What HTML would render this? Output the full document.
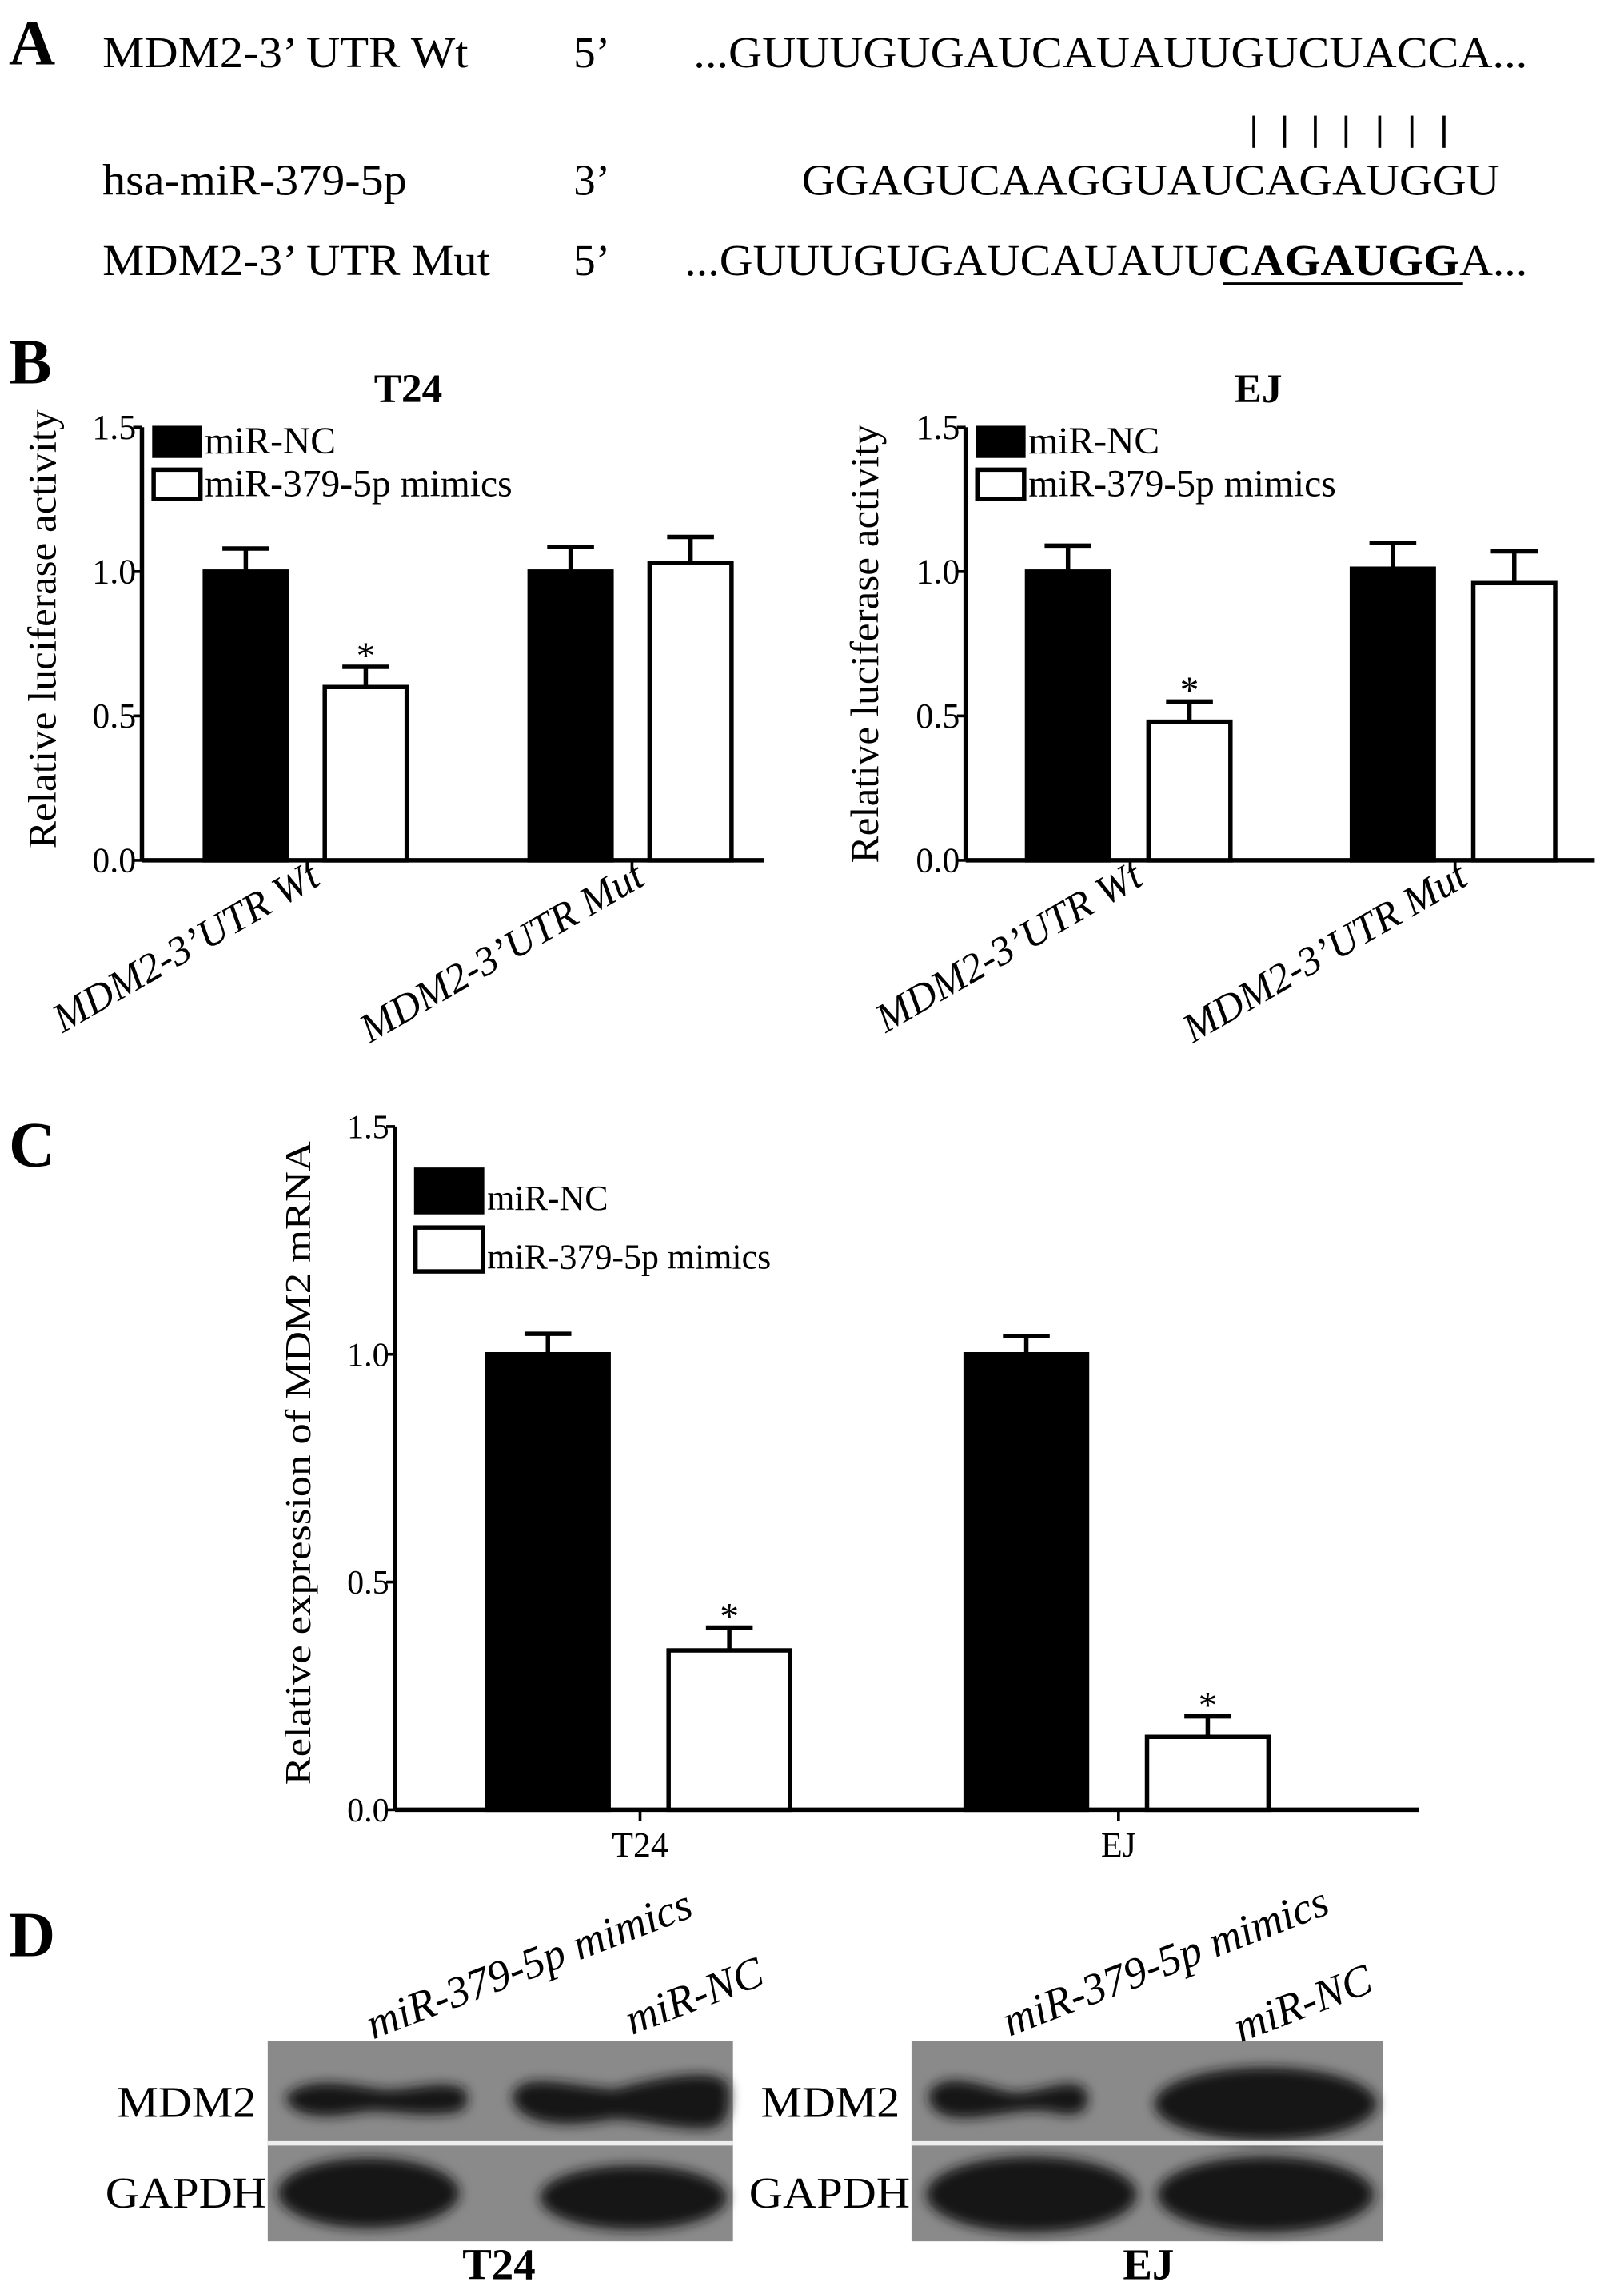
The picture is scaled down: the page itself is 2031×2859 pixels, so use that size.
<!DOCTYPE html>
<html><head><meta charset="utf-8">
<style>
html,body{margin:0;padding:0;background:#fff;}
svg{display:block;}
svg text{font-family:"Liberation Serif",serif;}
</style></head>
<body>
<svg id="fig" width="2031" height="2859" viewBox="0 0 1110 1562.5" xmlns="http://www.w3.org/2000/svg" font-family="Liberation Serif, serif">
<defs>
<filter id="blur" x="-20%" y="-50%" width="140%" height="200%"><feGaussianBlur stdDeviation="4"/></filter>
</defs>
<!-- Panel A -->
<g font-size="30">
<text x="6" y="44" font-size="44" font-weight="bold">A</text>
<text x="70" y="46" textLength="250" lengthAdjust="spacingAndGlyphs">MDM2-3’ UTR Wt</text>
<text x="392" y="46">5’</text>
<text x="474" y="46" textLength="570" lengthAdjust="spacingAndGlyphs">...GUUUGUGAUCAUAUUGUCUACCA...</text>
<g stroke="#000" stroke-width="2">
<line x1="857" y1="79" x2="857" y2="101"/><line x1="878" y1="79" x2="878" y2="101"/><line x1="899" y1="79" x2="899" y2="101"/><line x1="920" y1="79" x2="920" y2="101"/><line x1="943" y1="79" x2="943" y2="101"/><line x1="965" y1="79" x2="965" y2="101"/><line x1="987" y1="79" x2="987" y2="101"/>
</g>
<text x="70" y="133" textLength="208" lengthAdjust="spacingAndGlyphs">hsa-miR-379-5p</text>
<text x="392" y="133">3’</text>
<text x="548" y="133" textLength="477" lengthAdjust="spacingAndGlyphs">GGAGUCAAGGUAUCAGAUGGU</text>
<text x="70" y="188" textLength="265" lengthAdjust="spacingAndGlyphs">MDM2-3’ UTR Mut</text>
<text x="392" y="188">5’</text>
<text x="468" y="188" textLength="576" lengthAdjust="spacingAndGlyphs">...GUUUGUGAUCAUAUU<tspan font-weight="bold">CAGAUGG</tspan>A...</text>
<line x1="836" y1="194" x2="1000" y2="194" stroke="#000" stroke-width="2"/>
</g>
<text x="6" y="262" font-size="44" font-weight="bold">B</text>
<text x="6" y="797" font-size="44" font-weight="bold">C</text>
<text x="6" y="1337" font-size="44" font-weight="bold">D</text>
<g id="charts" font-family="Liberation Serif, serif"></g>
<!-- Panel D -->
<g>
<g>
<rect x="183" y="1395" width="318" height="137" fill="#8a8a8a"/>
<g filter="url(#blur)" fill="#151515">
<path d="M195,1433 C210,1418 240,1425 260,1428 C280,1430 300,1420 318,1428 C322,1440 318,1445 300,1445 C280,1447 260,1440 240,1445 C220,1448 198,1447 195,1433Z"/>
<path d="M350,1433 C355,1415 385,1425 420,1428 C450,1420 490,1412 498,1425 C500,1445 497,1455 480,1455 C450,1455 430,1445 410,1450 C380,1455 352,1450 350,1433Z"/>
<ellipse cx="252" cy="1499" rx="62" ry="24"/>
<ellipse cx="433" cy="1502" rx="64" ry="22"/>
</g>
<line x1="183" y1="1465" x2="501" y2="1465" stroke="#eee" stroke-width="3"/>
</g>
<g>
<rect x="623" y="1395" width="322" height="137" fill="#8a8a8a"/>
<g filter="url(#blur)" fill="#151515">
<path d="M635,1430 C645,1415 670,1425 690,1430 C710,1432 730,1418 742,1428 C746,1440 742,1447 725,1445 C705,1440 690,1445 670,1447 C645,1450 633,1443 635,1430Z"/>
<ellipse cx="865" cy="1438" rx="76" ry="25"/>
<ellipse cx="705" cy="1500" rx="72" ry="26"/>
<ellipse cx="865" cy="1500" rx="74" ry="26"/>
</g>
<line x1="623" y1="1465" x2="945" y2="1465" stroke="#eee" stroke-width="3"/>
</g>
<g font-size="30">
<text x="80" y="1447" textLength="95" lengthAdjust="spacingAndGlyphs">MDM2</text>
<text x="72" y="1509" textLength="110" lengthAdjust="spacingAndGlyphs">GAPDH</text>
<text x="520" y="1447" textLength="95" lengthAdjust="spacingAndGlyphs">MDM2</text>
<text x="512" y="1509" textLength="110" lengthAdjust="spacingAndGlyphs">GAPDH</text>
<text x="341" y="1558" text-anchor="middle" font-weight="bold">T24</text>
<text x="785" y="1558" text-anchor="middle" font-weight="bold">EJ</text>
<g font-style="italic">
<text transform="translate(255,1394) rotate(-21)">miR-379-5p mimics</text>
<text transform="translate(432,1391) rotate(-21)">miR-NC</text>
<text transform="translate(690,1392) rotate(-21)">miR-379-5p mimics</text>
<text transform="translate(848,1396) rotate(-21)">miR-NC</text>
</g>
</g>
</g>
</svg>
<script>
// Panel B T24
const t24Groups = ["MDM2-3’UTR Wt", "MDM2-3’UTR Mut"];
const t24NC = [1.00, 1.00];
const t24NCErr = [0.08, 0.085];
const t24Mimic = [0.60, 1.03];
const t24MimicErr = [0.07, 0.09];
// Panel B EJ
const ejGroups = ["MDM2-3’UTR Wt", "MDM2-3’UTR Mut"];
const ejNC = [1.00, 1.01];
const ejNCErr = [0.09, 0.09];
const ejMimic = [0.48, 0.96];
const ejMimicErr = [0.07, 0.11];
// Panel C
const cGroups = ["T24", "EJ"];
const cNC = [1.00, 1.00];
const cNCErr = [0.045, 0.04];
const cMimic = [0.35, 0.16];
const cMimicErr = [0.05, 0.045];
const yTicks = [0.0, 0.5, 1.0, 1.5];
const yTickLabels = ["0.0", "0.5", "1.0", "1.5"];

const NS = "http://www.w3.org/2000/svg";
const root = document.getElementById("charts");
function mk(tag, attrs, parent) {
  const e = document.createElementNS(NS, tag);
  for (const k in attrs) e.setAttribute(k, attrs[k]);
  if (tag === "text") e.setAttribute("font-family", "Liberation Serif, serif");
  (parent || root).appendChild(e);
  return e;
}
function chart(cfg) {
  const g = mk("g", {});
  
  
  const yS = v => cfg.y0 + (cfg.y1 - cfg.y0) * v / 1.5;
  const ya = mk("line", {x1: cfg.ax, y1: cfg.y1, x2: cfg.ax, y2: cfg.y0, stroke: "#000", "stroke-width": 3}, g);
  
  
  const xa = mk("line", {x1: cfg.ax, y1: cfg.y0, x2: cfg.axEnd, y2: cfg.y0, stroke: "#000", "stroke-width": 3}, g);
  
  
  yTicks.forEach((t, i) => {
    const y = yS(t);
    mk("line", {x1: cfg.ax - 6, y1: y, x2: cfg.ax, y2: y, stroke: "#000", "stroke-width": 2}, g);
    const tl = mk("text", {x: cfg.ax - 4, y: y + 8, "text-anchor": "end", "font-size": cfg.tickFs}, g);
    tl.textContent = yTickLabels[i];
    
    
  });
  const yl = mk("text", {transform: `translate(${cfg.ylx},${cfg.yly}) rotate(-90)`, "text-anchor": "middle", "font-size": cfg.ylFs, textLength: cfg.ylLen, lengthAdjust: "spacingAndGlyphs"}, g);
  yl.textContent = cfg.ylabel;
  
  
  cfg.groups.forEach((gname, i) => {
    const bx = cfg.gx[i];
    const series = [[cfg.nc, cfg.ncErr, "#000"], [cfg.mi, cfg.miErr, "#fff"]];
    series.forEach((s, j) => {
      const x = bx + j * cfg.step;
      const v = s[0][i], top = yS(v), et = yS(v + s[1][i]);
      const cx = x + cfg.bw / 2;
      const el = mk("line", {x1: cx, y1: top, x2: cx, y2: et, stroke: "#000", "stroke-width": 3}, g);
      const ec = mk("line", {x1: cx - 16, y1: et, x2: cx + 16, y2: et, stroke: "#000", "stroke-width": 3}, g);
      const r = mk("rect", {x: x, y: top, width: cfg.bw, height: cfg.y0 - top, fill: s[2], stroke: "#000", "stroke-width": 3}, g);
      
      
      
      
      
      
      if (j === 1 && cfg.star[i]) {
        const st = mk("text", {x: cx, y: et + 1, "text-anchor": "middle", "font-size": 26}, g);
        st.textContent = "*";
        
        
      }
    });
    const tx = bx + cfg.step / 2 + cfg.bw / 2 + 1;
    mk("line", {x1: tx, y1: cfg.y0, x2: tx, y2: cfg.y0 + 8, stroke: "#000", "stroke-width": 2}, g);
    let lab;
    if (cfg.rot) {
      lab = mk("text", {transform: `translate(${tx + 10},${cfg.y0 + 16}) rotate(-30)`, "text-anchor": "end", "font-size": 28, "font-style": "italic"}, g);
    } else {
      lab = mk("text", {x: tx, y: cfg.y0 + 32, "text-anchor": "middle", "font-size": 24}, g);
    }
    lab.textContent = gname;
    
    
  });
  const L = cfg.leg;
  const lb1 = mk("rect", {x: L.x, y: L.y, width: L.w, height: L.h, fill: "#000", stroke: "#000", "stroke-width": 2}, g);
  
  
  const lt1 = mk("text", {x: L.x + L.w + 3, y: L.y + L.h - 2, "font-size": L.fs}, g);
  lt1.textContent = "miR-NC";
  
  
  const lb2 = mk("rect", {x: L.x, y: L.y + L.gap, width: L.w, height: L.h, fill: "#fff", stroke: "#000", "stroke-width": 3}, g);
  
  
  const lt2 = mk("text", {x: L.x + L.w + 3, y: L.y + L.gap + L.h - 2, "font-size": L.fs}, g);
  lt2.textContent = "miR-379-5p mimics";
  
  
  if (cfg.title) {
    const t = mk("text", {x: cfg.title[1], y: 275, "text-anchor": "middle", "font-size": 28, "font-weight": "bold"}, g);
    t.textContent = cfg.title[0];
    
    
  }
}
chart({name: "chart-t24-luciferase", ax: 97, axEnd: 522, y0: 588, y1: 292, gx: [140, 362], step: 82, bw: 56,
  groups: t24Groups, nc: t24NC, ncErr: t24NCErr, mi: t24Mimic, miErr: t24MimicErr, star: [1, 0],
  ylabel: "Relative luciferase activity", ylx: 38, yly: 430, ylLen: 300, ylFs: 27, tickFs: 24, rot: true, title: ["T24", 279],
  leg: {x: 105, y: 292, w: 32, h: 20, gap: 29, fs: 26}});
chart({name: "chart-ej-luciferase", ax: 660, axEnd: 1090, y0: 588, y1: 292, gx: [702, 924], step: 83, bw: 56,
  groups: ejGroups, nc: ejNC, ncErr: ejNCErr, mi: ejMimic, miErr: ejMimicErr, star: [1, 0],
  ylabel: "Relative luciferase activity", ylx: 600, yly: 440, ylLen: 300, ylFs: 27, tickFs: 24, rot: true, title: ["EJ", 860],
  leg: {x: 668, y: 292, w: 32, h: 20, gap: 29, fs: 26}});
chart({name: "chart-mdm2-mrna", ax: 270, axEnd: 970, y0: 1237, y1: 770, gx: [333, 660], step: 124, bw: 83,
  groups: cGroups, nc: cNC, ncErr: cNCErr, mi: cMimic, miErr: cMimicErr, star: [1, 1],
  ylabel: "Relative expression of MDM2 mRNA", ylx: 212, yly: 1000, ylLen: 440, ylFs: 25, tickFs: 23, rot: false,
  leg: {x: 284, y: 799, w: 46, h: 30, gap: 40, fs: 24}});
</script>
</body></html>
